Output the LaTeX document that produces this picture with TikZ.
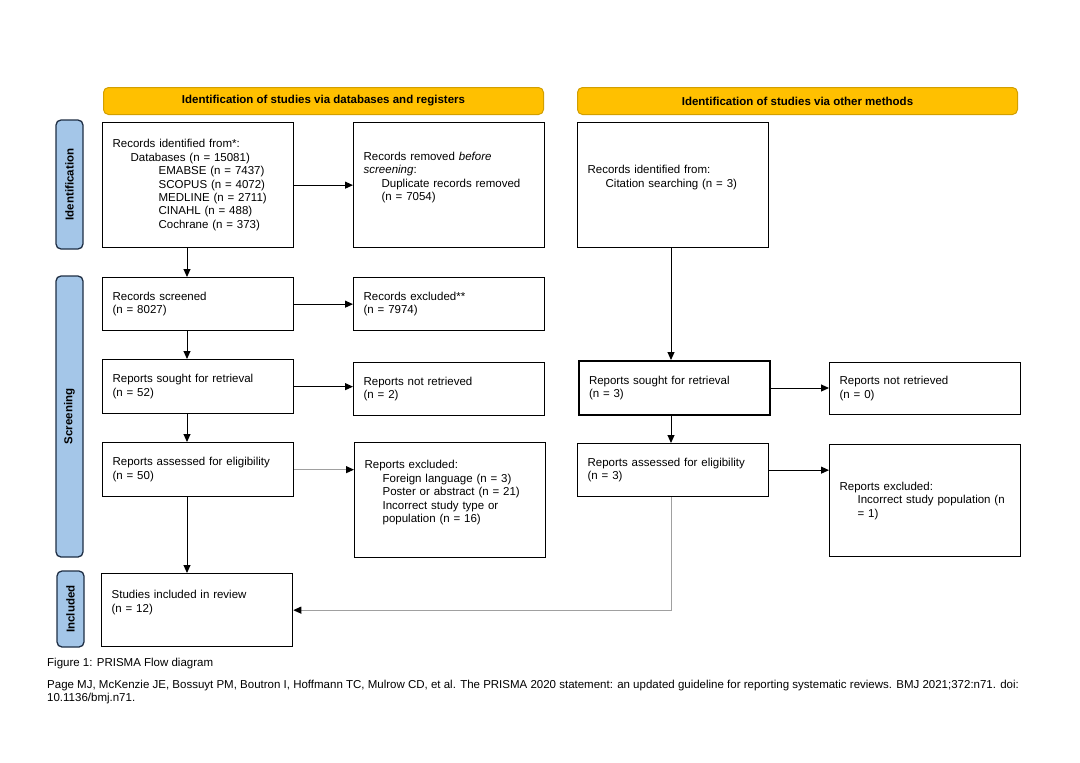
\documentclass[tikz,border=0pt]{standalone}
\usepackage{fontspec}
\setmainfont{Liberation Sans}
\usepackage{xcolor}
\usepackage{tikz}
\usetikzlibrary{arrows.meta}
\definecolor{Amber}{HTML}{FFC000}
\definecolor{AmberEdge}{HTML}{D29F00}
\definecolor{PhaseBlue}{HTML}{A4C6E8}
\definecolor{PhaseEdge}{HTML}{1E2E44}
\definecolor{LineGray}{HTML}{A0A0A0}
\newcommand{\indone}{\hspace*{18pt}}
\newcommand{\indtwo}{\hspace*{46pt}}

\begin{document}
\begin{tikzpicture}[
  x=1pt,
  y=-1pt,
  font=\fontsize{11.5}{13.4}\selectfont,
  box/.style={draw=black,line width=1.3pt,fill=white,anchor=north west,align=left,text width=171pt,inner xsep=10pt,inner ysep=2pt},
  header/.style={draw=AmberEdge,fill=Amber,line width=1pt,rounded corners=5pt,anchor=north west,minimum width=440pt,minimum height=27pt,font=\bfseries\fontsize{11.5}{13.4}\selectfont},
  phase/.style={draw=PhaseEdge,fill=PhaseBlue,line width=1.3pt,rounded corners=5pt,rotate=90,minimum height=27pt,inner sep=0pt,font=\bfseries\fontsize{11.5}{13.4}\selectfont},
  arr/.style={-{Triangle[length=8pt,width=7pt]},line width=1pt},
  grayarr/.style={-{Triangle[length=8pt,width=7pt,color=black]},line width=1pt,draw=LineGray},
  caption/.style={anchor=base west,inner sep=0pt,align=left}
]
  \useasboundingbox (0,0) rectangle (1080,763);

  % Column headers
  \node[header] (hdb) at (103,87) {Identification of studies via databases and registers};
  \node[header] (hother) at (577,87) {Identification of studies via other methods};

  % Phase labels
  \node[phase,minimum width=129pt] (pid) at (69.5,184.5) {Identification};
  \node[phase,minimum width=281pt] (pscr) at (69.5,416.5) {Screening};
  \node[phase,minimum width=76pt] (pinc) at (70.5,609) {Included};

  % Databases and registers
  \node[box,minimum height=125pt] (ident) at (102,122) {Records identified from*:\\
    \indone Databases (n = 15081)\\
    \indtwo EMABSE (n = 7437)\\
    \indtwo SCOPUS (n = 4072)\\
    \indtwo MEDLINE (n = 2711)\\
    \indtwo CINAHL (n = 488)\\
    \indtwo Cochrane (n = 373)};
  \node[box,minimum height=125pt] (removed) at (353,122) {Records removed \textit{before}\\
    \textit{screening}:\\
    \indone Duplicate records removed\\
    \indone (n = 7054)\\ \strut};
  \node[box,minimum height=53pt] (screened) at (102,277) {Records screened\\ (n = 8027)};
  \node[box,minimum height=53pt] (excluded) at (353,277) {Records excluded**\\ (n = 7974)};
  \node[box,minimum height=54pt] (sought) at (102,359) {Reports sought for retrieval\\ (n = 52)};
  \node[box,minimum height=53pt] (notretr) at (353,362) {Reports not retrieved\\ (n = 2)};
  \node[box,minimum height=54pt] (assessed) at (102,442) {Reports assessed for eligibility\\ (n = 50)};
  \node[box,minimum height=115pt] (rexcl) at (354,442) {Reports excluded:\\
    \indone Foreign language (n = 3)\\
    \indone Poster or abstract (n = 21)\\
    \indone Incorrect study type or\\
    \indone population (n = 16)\\ \strut};
  \node[box,minimum height=73pt] (included) at (101,573) {Studies included in review\\ (n = 12)\\ \strut};

  % Other methods
  \node[box,minimum height=125pt] (citation) at (577,122) {Records identified from:\\
    \indone Citation searching (n = 3)\\ \strut};
  \node[box,line width=2pt,minimum height=54pt] (sought2) at (578,360) {Reports sought for retrieval\\ (n = 3)};
  \node[box,minimum height=52pt] (notretr2) at (829,362) {Reports not retrieved\\ (n = 0)};
  \node[box,minimum height=53pt] (assessed2) at (577,443) {Reports assessed for eligibility\\ (n = 3)};
  \node[box,minimum height=112pt] (rexcl2) at (829,444) {Reports excluded:\\
    \indone Incorrect study population (n\\
    \indone = 1)};

  % Connectors
  \coordinate (lcol) at (187,0);
  \coordinate (rcol) at (671,0);
  \draw[arr] (ident.south -| lcol) -- (screened.north -| lcol);
  \draw[arr] (screened.south -| lcol) -- (sought.north -| lcol);
  \draw[arr] (sought.south -| lcol) -- (assessed.north -| lcol);
  \draw[arr] (assessed.south -| lcol) -- (included.north -| lcol);
  \draw[arr] (ident.east) -- (ident.east -| removed.west);
  \draw[arr] (screened.east) -- (screened.east -| excluded.west);
  \draw[arr] (sought.east) -- (sought.east -| notretr.west);
  \draw[grayarr] (assessed.east) -- (assessed.east -| rexcl.west);
  \draw[arr] (citation.south -| rcol) -- (sought2.north -| rcol);
  \draw[arr] (sought2.south -| rcol) -- (assessed2.north -| rcol);
  \draw[arr] (sought2.east) -- (sought2.east -| notretr2.west);
  \draw[arr] (assessed2.east) -- (assessed2.east -| rexcl2.west);
  \draw[grayarr] (assessed2.south -| rcol) |- (included.east);

  % Caption and reference (base = last line)
  \node[caption] (fig) at (47,666) {Figure 1: PRISMA Flow diagram};
  \node[caption] (cite) at (47,701.5) {Page MJ, McKenzie JE, Bossuyt PM, Boutron I, Hoffmann TC, Mulrow CD, et al. The PRISMA 2020 statement: an updated guideline for reporting systematic reviews. BMJ 2021;372:n71. doi:\\
    10.1136/bmj.n71.};
\end{tikzpicture}
\end{document}
